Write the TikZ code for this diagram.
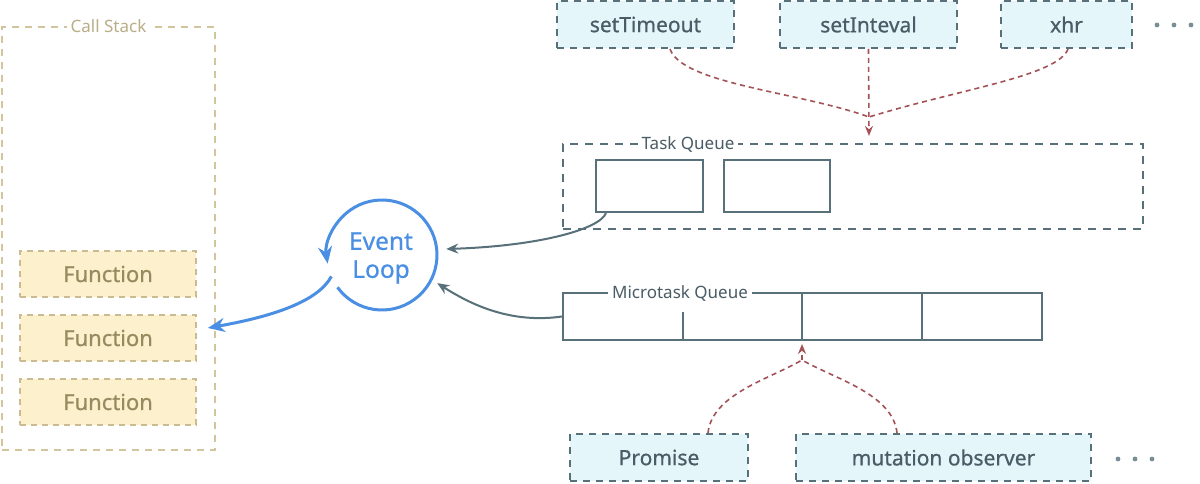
\documentclass[tikz,border=0pt]{standalone}
\usepackage{fontspec}
\setmainfont{Noto Sans}
\newfontfamily\medfont[RawFeature={embolden=0.7}]{Noto Sans}
\usetikzlibrary{arrows.meta,calc}
\definecolor{csborder}{HTML}{D2C59E}
\definecolor{cslabel}{HTML}{B9AE88}
\definecolor{fnfill}{HTML}{FCF0CD}
\definecolor{fnborder}{HTML}{C9BC92}
\definecolor{fntext}{HTML}{968B5E}
\definecolor{slate}{HTML}{587079}
\definecolor{slatetext}{HTML}{4A5C65}
\definecolor{cyanfill}{HTML}{E5F6FA}
\definecolor{reddash}{HTML}{A45256}
\definecolor{loopblue}{HTML}{4A8FE3}
\begin{document}
\begin{tikzpicture}[x=1pt,y=1pt,
  stackbox/.style={draw=csborder, dash pattern=on 7pt off 6pt, line width=2pt, inner sep=0pt},
  funcbox/.style={draw=fnborder, fill=fnfill, dash pattern=on 6pt off 5pt, line width=1.6pt,
    minimum width=176pt, minimum height=46pt, inner sep=0pt, text=fntext, font=\medfont\fontsize{22}{26}\selectfont},
  apibox/.style={draw=slate, fill=cyanfill, dash pattern=on 7pt off 6pt, line width=2pt,
    minimum height=47pt, inner sep=0pt, text=slatetext, font=\medfont\fontsize{21}{25}\selectfont},
  queuebox/.style={draw=slate, dash pattern=on 8pt off 7pt, line width=2.2pt, inner sep=0pt},
  slotbox/.style={draw=slate, line width=2pt, inner sep=0pt},
  qlabel/.style={fill=white, text=slatetext, font=\fontsize{17}{19}\selectfont, inner sep=4pt},
  redline/.style={draw=reddash, dash pattern=on 5pt off 4pt, line width=1.6pt},
  slatearrow/.style={draw=slate, line width=2pt, -{Stealth[length=12pt,width=10pt]}},
  bluearrow/.style={draw=loopblue, line width=3pt, -{Stealth[length=17pt,width=14pt]}},
  dotmark/.style={fill=slate!80}
]
\useasboundingbox (0,0) rectangle (1200,484);
\fill[white] (0,0) rectangle (1200,484);

% Call stack
\node[stackbox, minimum width=213pt, minimum height=423pt] (cs) at (108.5,245.5) {};
\node[fill=white, text=cslabel, font=\fontsize{17}{19}\selectfont, inner sep=4pt] (cslab) at (cs.north) {Call Stack};
\node[funcbox] (f1) at (108,210) {Function};
\node[funcbox] (f2) at (108,146) {Function};
\node[funcbox] (f3) at (108,82) {Function};

% Event loop
\node[circle, minimum size=110pt, inner sep=0pt] (el) at (382,229) {};
\node[text=loopblue, align=center, inner sep=0pt,
  font=\medfont\fontsize{24.5}{28}\selectfont] (elt) at (381,226) {Event\\Loop};
\draw[bluearrow] ($(el.center)+(216:55)$) arc[start angle=216, end angle=549, radius=55];
\draw[bluearrow] ($(el.center)+(203:55)$) .. controls (318,183) and (275,168) .. ([shift={(11,10)}]f2.east);

% Task queue
\node[queuebox, minimum width=580pt, minimum height=85pt] (tq) at (853,297.5) {};
\node[qlabel] (tqlab) at (688,340) {Task Queue};
\node[slotbox, minimum width=107pt, minimum height=52pt] (t1) at (649.5,298) {};
\node[slotbox, minimum width=106pt, minimum height=52pt] (t2) at (777,298) {};

% Microtask queue
\node[slotbox, minimum width=479pt, minimum height=47pt] (mq) at (802.5,167.5) {};
\node[qlabel] (mqlab) at (680,191) {Microtask Queue};
\coordinate (d1) at (683,172);
\coordinate (d2) at (802,191);
\coordinate (d3) at (922,191);
\draw[slate, line width=2pt] (d1) -- (d1 |- mq.south);
\draw[slate, line width=2pt] (d2) -- (d2 |- mq.south);
\draw[slate, line width=2pt] (d3) -- (d3 |- mq.south);

% arrows to event loop
\draw[slatearrow] ([xshift=11pt]t1.south west) .. controls (600,255) and (540,238) .. ([shift={(9,6)}]el.east);
\draw[slatearrow] (mq.west) .. controls (510,160) and (470,180) .. ($(el.center)+(-27:62)$);

% top sources
\node[apibox, minimum width=177pt] (st) at (645.5,459.5) {setTimeout};
\node[apibox, minimum width=177pt] (si) at (868.5,459.5) {setInteval};
\node[apibox, minimum width=131pt] (xh) at (1066.5,459.5) {xhr};
\fill[dotmark] (1157,459) circle (2.4) (1174,459) circle (2.4) (1191,459) circle (2.4);

\coordinate (tmerge) at (869,367);
\coordinate (ttip) at (869,348);
\draw[redline] ([xshift=24.5pt]st.south) .. controls (682,400) and (800,392) .. (tmerge);
\draw[redline] ([xshift=1.5pt]xh.south) .. controls (1058,408) and (960,395) .. (tmerge);
\draw[redline, -{Stealth[length=10pt,width=8pt]}] (si.south) -- (ttip);

% bottom sources
\node[apibox, minimum width=178pt] (pr) at (659,26.5) {Promise};
\node[apibox, minimum width=295pt] (mo) at (943.5,26.5) {mutation observer};
\fill[dotmark] (1118,25) circle (2.4) (1135,25) circle (2.4) (1152,25) circle (2.4);

\coordinate (bmerge) at (802,124);
\coordinate (btip) at (802,140);
\draw[redline] ([xshift=49pt]pr.north) .. controls (712,90) and (770,105) .. (bmerge);
\draw[redline] ([xshift=-46.5pt]mo.north) .. controls (893,90) and (835,105) .. (bmerge);
\draw[redline, -{Stealth[length=10pt,width=8pt]}] (bmerge) -- (btip);
\end{tikzpicture}
\end{document}
